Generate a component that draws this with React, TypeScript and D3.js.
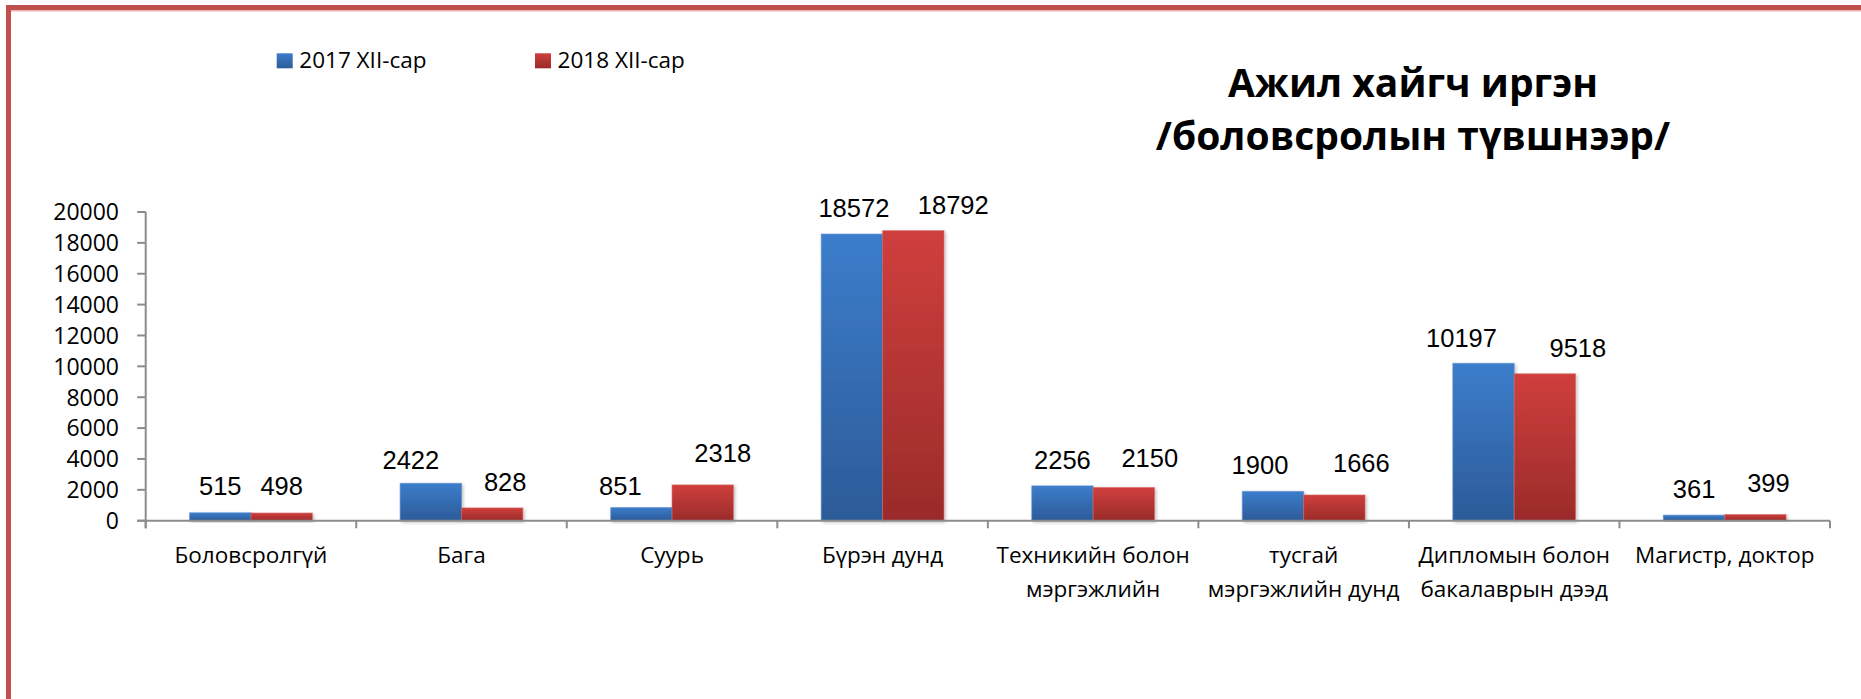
import React from "react";
import * as d3 from "d3";

// ---- data ----
const categories = [
  "Боловсролгүй",
  "Бага",
  "Суурь",
  "Бүрэн дунд",
  "Техникийн болон\nмэргэжлийн",
  "тусгай\nмэргэжлийн дунд",
  "Дипломын болон\nбакалаврын дээд",
  "Магистр, доктор",
];
const seriesNames = ["2017 XII-сар", "2018 XII-сар"];
const values2017 = [515, 2422, 851, 18572, 2256, 1900, 10197, 361];
const values2018 = [498, 828, 2318, 18792, 2150, 1666, 9518, 399];
const yTicks = [0, 2000, 4000, 6000, 8000, 10000, 12000, 14000, 16000, 18000, 20000];
const titleLines = ["Ажил хайгч иргэн", "/боловсролын түвшнээр/"];

// ---- layout (manual data label nudges as in the original, [dx, extra dy]) ----
const nudge2017 = [[0, 1], [-20, -3], [-21, -4], [2, 0], [0, 0], [-13, 0], [-22, -1], [0, 0]];
const nudge2018 = [[0, 1], [13, 0], [20, 6], [40, 0], [26, 4], [27, 6], [33, 0], [13, 6]];

const W = 1861;
const H = 699;
const plotLeft = 145.7;
const plotRight = 1830;
const yTop = 212;
const yBase = 520.7;
const tickFont = "'Open Sans', 'Noto Sans', sans-serif";
const labelFont = "'Liberation Sans', Arial, sans-serif";

export default function App() {
  const x0 = d3
    .scaleBand<string>()
    .domain(categories)
    .range([plotLeft, plotRight])
    .paddingInner(0.417)
    .paddingOuter(0.2085);
  const x1 = d3.scaleBand<string>().domain(seriesNames).range([0, x0.bandwidth()]).padding(0);
  const y = d3.scaleLinear().domain([0, 20000]).range([yBase, yTop]);
  const step = x0.step();
  const boundaries = d3.range(categories.length + 1).map((i) => plotLeft + i * step);

  const series = [
    { name: seriesNames[0], values: values2017, grad: "gBlue", nudge: nudge2017, stroke: "#5b8fd4" },
    { name: seriesNames[1], values: values2018, grad: "gRed", nudge: nudge2018, stroke: "#d86563" },
  ];

  return (
    <div style={{ position: "absolute", left: 0, top: 0, width: W, height: H, overflow: "hidden", background: "#fff" }}>
      <svg width={W} height={H} viewBox={`0 0 ${W} ${H}`}>
        <defs>
          <linearGradient id="gBlue" x1="0" y1="0" x2="0" y2="1">
            <stop offset="0" stopColor="#3c7dcb" />
            <stop offset="1" stopColor="#2c5b98" />
          </linearGradient>
          <linearGradient id="gRed" x1="0" y1="0" x2="0" y2="1">
            <stop offset="0" stopColor="#cf3f3d" />
            <stop offset="1" stopColor="#9a2b29" />
          </linearGradient>
          <filter id="shadow" x="-10%" y="-10%" width="130%" height="130%">
            <feDropShadow dx="1.5" dy="1.5" stdDeviation="1.5" floodColor="#000" floodOpacity="0.25" />
          </filter>
        </defs>
        <rect x={0} y={0} width={W} height={H} fill="#fff" />

        {/* frame */}
        <rect x={8.5} y={7.5} width={W + 100} height={H + 100} fill="none" stroke="#c0504d" strokeWidth={5} />
        <line x1={11} x2={W} y1={10.8} y2={10.8} stroke="#e8b5b4" strokeWidth={1.5} />

        {/* legend */}
        {series.map((s, i) => {
          const lx = i === 0 ? 276.7 : 535;
          return (
            <g key={s.name}>
              <rect x={lx} y={53.3} width={16} height={15} fill={`url(#${s.grad})`} />
              <text x={lx + 22.6} y={68.3} fontFamily={tickFont} fontSize={22.5} fill="#000">
                {s.name}
              </text>
            </g>
          );
        })}

        {/* title */}
        {titleLines.map((t, i) => (
          <text
            key={t}
            x={1413}
            y={97 + i * 53}
            textAnchor="middle"
            fontFamily={tickFont}
            fontWeight="bold"
            fontSize={39}
            fill="#000"
          >
            {t}
          </text>
        ))}

        {/* y axis */}
        <line x1={plotLeft} x2={plotLeft} y1={yTop} y2={yBase + 7.6} stroke="#8c8c8c" strokeWidth={2} />
        {yTicks.map((t) => (
          <g key={t}>
            <line x1={plotLeft - 8.5} x2={plotLeft} y1={y(t)} y2={y(t)} stroke="#8c8c8c" strokeWidth={2} />
            <text
              x={119}
              y={y(t)}
              dy="0.36em"
              textAnchor="end"
              fontFamily={tickFont}
              fontSize={23}
              fill="#000"
            >
              {t}
            </text>
          </g>
        ))}

        {/* bars */}
        {series.map((s) =>
          s.values.map((v, i) => {
            const bx = (x0(categories[i]) ?? 0) + (x1(s.name) ?? 0);
            const bw = x1.bandwidth();
            return (
              <rect
                key={s.name + i}
                x={bx}
                y={y(v)}
                width={bw}
                height={yBase - y(v)}
                fill={`url(#${s.grad})`}
                stroke={s.stroke}
                strokeOpacity={0.6}
                strokeWidth={1}
                filter="url(#shadow)"
              />
            );
          })
        )}

        {/* x axis */}
        <line x1={plotLeft - 8.5} x2={plotRight} y1={yBase} y2={yBase} stroke="#8c8c8c" strokeWidth={2} />
        {boundaries.map((bx, i) => (
          <line key={i} x1={bx} x2={bx} y1={yBase} y2={yBase + 7.6} stroke="#8c8c8c" strokeWidth={2} />
        ))}

        {/* data labels */}
        {series.map((s) =>
          s.values.map((v, i) => {
            const cx = (x0(categories[i]) ?? 0) + (x1(s.name) ?? 0) + x1.bandwidth() / 2;
            return (
              <text
                key={"l" + s.name + i}
                x={cx + s.nudge[i][0]}
                y={y(v) - 17 - s.nudge[i][1]}
                textAnchor="middle"
                fontFamily={labelFont}
                fontSize={25.5}
                fill="#000"
              >
                {v}
              </text>
            );
          })
        )}

        {/* category labels */}
        {categories.map((c) => {
          const cx = (x0(c) ?? 0) + x0.bandwidth() / 2;
          return (
            <text key={c} x={cx} textAnchor="middle" fontFamily={tickFont} fontSize={22.5} fill="#000">
              {c.split("\n").map((ln, j) => (
                <tspan key={j} x={cx} y={563 + j * 34}>
                  {ln}
                </tspan>
              ))}
            </text>
          );
        })}
      </svg>
    </div>
  );
}
